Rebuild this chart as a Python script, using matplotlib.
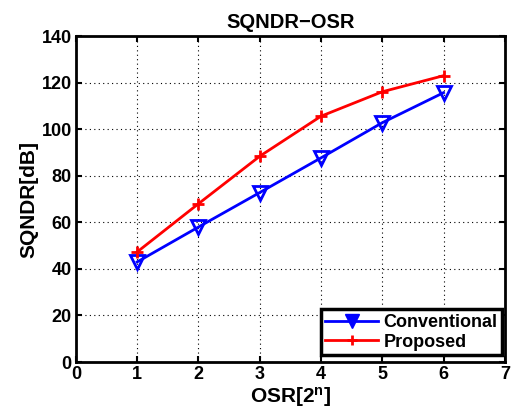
import matplotlib
matplotlib.use("Agg")
import matplotlib.pyplot as plt
from matplotlib.lines import Line2D

plt.rcParams['font.family'] = ['Liberation Sans', 'DejaVu Sans']
plt.rcParams['font.weight'] = 'bold'
plt.rcParams['mathtext.fontset'] = 'custom'
plt.rcParams['mathtext.rm'] = 'Liberation Sans:bold'
plt.rcParams['mathtext.it'] = 'Liberation Sans:bold'
plt.rcParams['mathtext.bf'] = 'Liberation Sans:bold'

osr = [1, 2, 3, 4, 5, 6]
conventional = [43.0, 58.0, 72.8, 87.7, 102.8, 115.7]
proposed = [47.3, 68.0, 88.4, 105.6, 116.1, 123.0]
xticks = [0, 1, 2, 3, 4, 5, 6, 7]
yticks = [0, 20, 40, 60, 80, 100, 120, 140]

fig = plt.figure(figsize=(5.13, 4.2), dpi=100)
ax = fig.add_axes([0.148, 0.138, 0.836, 0.776])

ax.plot(osr, conventional, color='blue', lw=2, marker='v', ms=10,
        mfc='none', mec='blue', mew=2)
ax.plot(osr, proposed, color='red', lw=2, marker='+', ms=8, mew=2)

ax.set_xlim(0, 7)
ax.set_ylim(0, 140)
ax.set_xticks(xticks)
ax.set_yticks(yticks)
ax.tick_params(direction='in', top=True, right=True, labelsize=13, width=1.5, length=4, pad=3)
for lab in ax.get_xticklabels() + ax.get_yticklabels():
    lab.set_fontweight('bold')
ax.grid(True, color='black', linestyle=(0, (1, 3)), linewidth=0.8)
for s in ax.spines.values():
    s.set_linewidth(2)

ax.set_title('SQNDR\u2212OSR', fontsize=14.5, fontweight='bold', pad=6)
ax.set_xlabel('OSR[2$^{n}$]', fontsize=15, fontweight='bold', labelpad=1)
ax.set_ylabel('SQNDR[dB]', fontsize=15, fontweight='bold', labelpad=2)

handles = [
    Line2D([], [], color='blue', lw=2, marker='v', ms=10, mfc='blue', mec='blue'),
    Line2D([], [], color='red', lw=2, marker='+', ms=7, mew=2),
]
leg = ax.legend(handles, ['Conventional', 'Proposed'], loc='lower right',
                bbox_to_anchor=(0.993, 0.021), borderaxespad=0,
                fancybox=False, framealpha=1, edgecolor='black',
                prop={'weight': 'bold', 'size': 13}, handlelength=2.9,
                borderpad=0.25, labelspacing=0.15, handletextpad=0.3)
leg.get_frame().set_linewidth(2.5)

fig.savefig('out.png', dpi=100)
